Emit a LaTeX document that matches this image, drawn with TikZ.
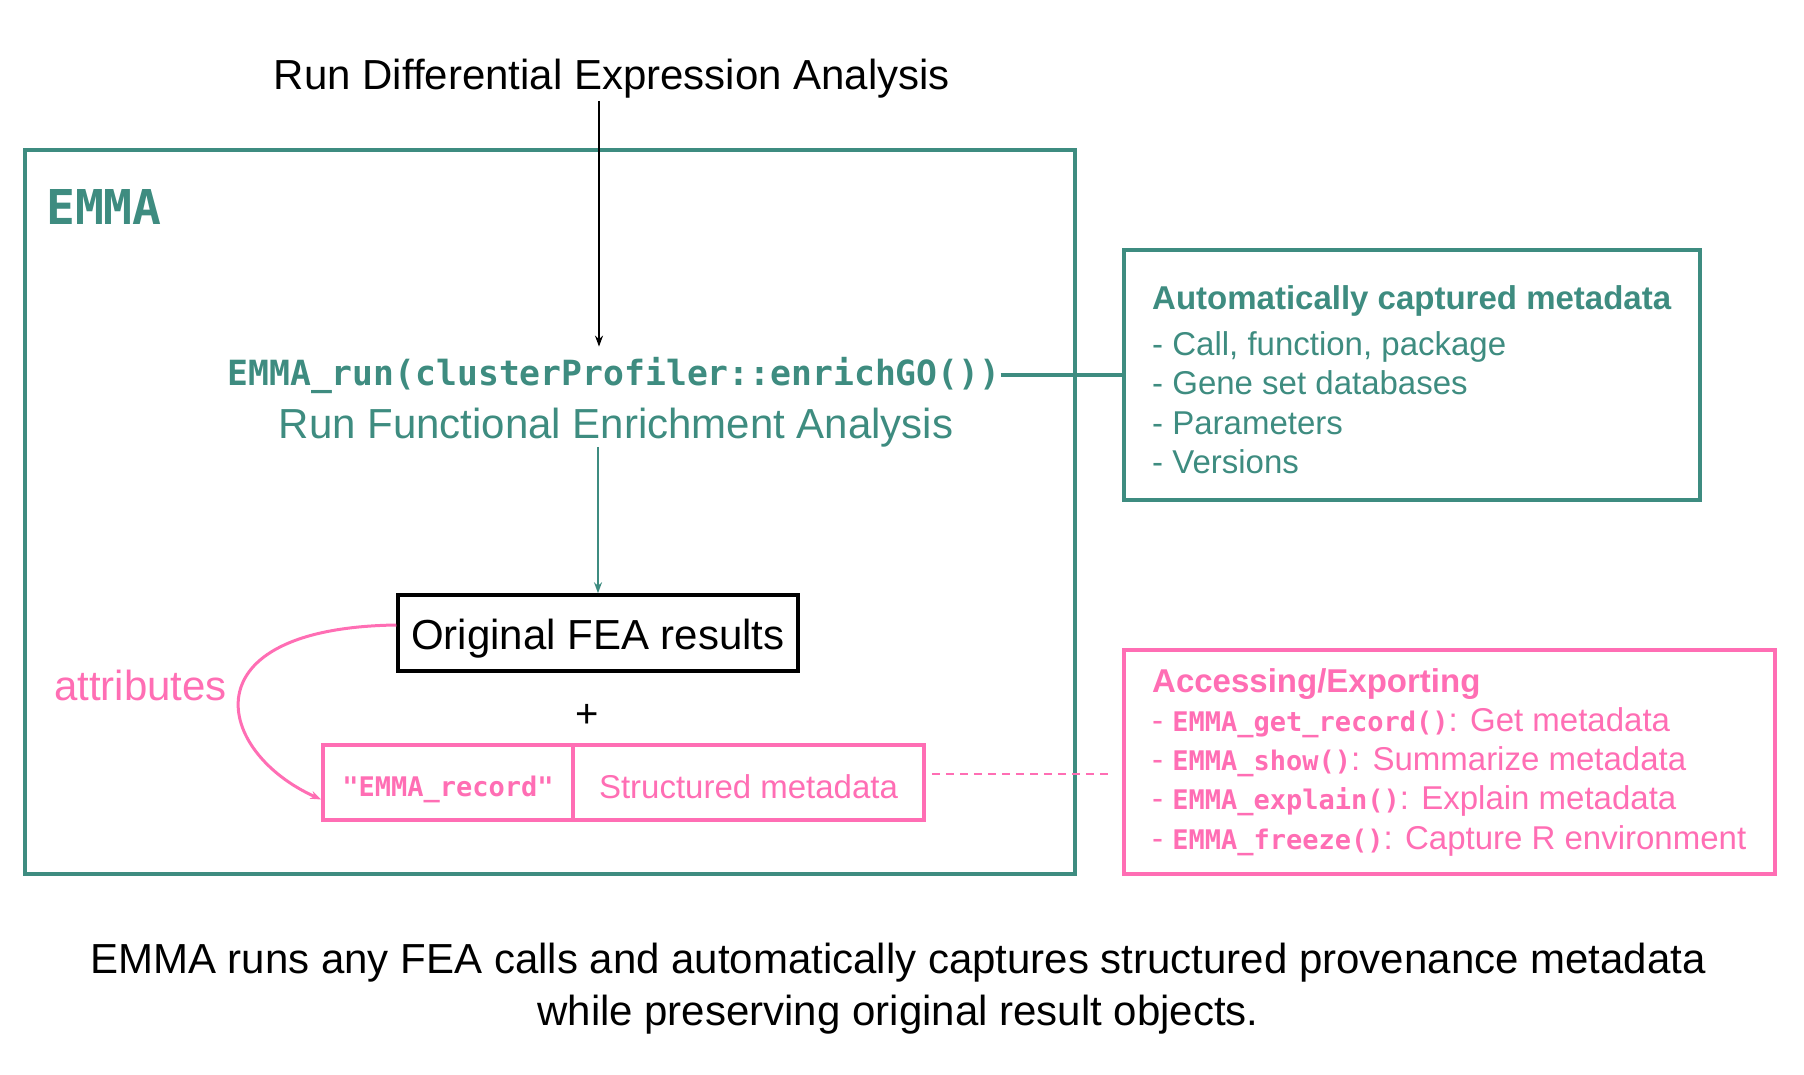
\documentclass[tikz,border=0pt]{standalone}
\usepackage{fontspec}
\setmainfont{Liberation Sans}
\setmonofont{DejaVu Sans Mono}
\usetikzlibrary{arrows.meta,calc}
\definecolor{emteal}{HTML}{3E8C80}
\definecolor{empink}{HTML}{FF6EB4}
\newcommand{\myfs}[1]{\fontsize{#1pt}{#1pt}\selectfont}
\newcommand{\mc}[1]{{\ttfamily\bfseries\myfs{27}#1}}
\tikzset{
  txt/.style={inner sep=0pt},
  bigtxt/.style={txt, font=\myfs{42}},
  smalltxt/.style={txt, font=\myfs{33}, anchor=base west},
  tealbox/.style={draw=emteal, line width=3.5pt, inner sep=0pt},
  pinkbox/.style={draw=empink, line width=3.5pt, inner sep=0pt},
  arr/.style={-{Stealth[length=11pt,width=8pt]}},
}
\begin{document}
\begin{tikzpicture}[x=1pt,y=-1pt]
\useasboundingbox (0,0) rectangle (1804,1075);
% main EMMA box
\node[tealbox, minimum width=1050pt, minimum height=724pt] (emma) at (550,512) {};
\node[txt, anchor=base west, text=emteal, font=\ttfamily\bfseries\myfs{48}] (emmalbl) at (46,225) {EMMA};
% top text
\node[bigtxt, anchor=base] (de) at (612,90) {Run Differential Expression Analysis};
\node[txt, inner ysep=10pt, text=emteal, font=\ttfamily\bfseries\myfs{34.7}] (run) at (614,375) {EMMA\_run(clusterProfiler::enrichGO())};
\node[bigtxt, anchor=base, text=emteal] (rfea) at (616,438) {Run Functional Enrichment Analysis};
\coordinate (detop) at (599,101);
\draw[arr, line width=1.6pt] (detop) -- (detop |- run.north);
% original results
\node[draw=black, line width=3.5pt, minimum width=400pt, minimum height=76pt] (orig) at (598,633) {};
\node[bigtxt] (origt) at ([yshift=-6pt]orig.center) {Original FEA results};
\draw[arr, emteal, line width=2pt] (rfea.south -| orig.north) -- (orig.north);
\node[txt, font=\myfs{40}] (plus) at (587,716) {+};
% record
\node[pinkbox, minimum width=250pt, minimum height=75pt] (rec1) at (448,782.5) {};
\node[txt, text=empink, font=\ttfamily\bfseries\myfs{27}] (rec1t) at ([yshift=-7pt]rec1.center) {"EMMA\_record"};
\node[pinkbox, minimum width=351pt, minimum height=75pt] (rec2) at (748.5,782.5) {};
\node[txt, text=empink, font=\myfs{33}] (rec2t) at ([yshift=-4pt]rec2.center) {Structured metadata};
\node[txt, anchor=base west, text=empink, font=\myfs{42}] (attr) at (54,700) {attributes};
\draw[arr, empink, line width=3pt] ([yshift=8pt]orig.west) .. controls (185,628) and (215,752) .. ([yshift=-17pt]rec1.west);
% metadata box
\node[tealbox, minimum width=576pt, minimum height=250pt] (meta) at (1412,375) {};
\draw[emteal, line width=3.5pt] (run.east) -- (meta.west);
\node[smalltxt, text=emteal, font=\myfs{33}\bfseries] (mt) at (1152,309) {Automatically captured metadata};
\node[smalltxt, text=emteal] (m1) at (1152,355) {- Call, function, package};
\node[smalltxt, text=emteal] (m2) at (1152,394) {- Gene set databases};
\node[smalltxt, text=emteal] (m3) at (1152,434) {- Parameters};
\node[smalltxt, text=emteal] (m4) at (1152,473) {- Versions};
% accessing box
\node[pinkbox, minimum width=651pt, minimum height=224pt] (acc) at (1449.5,762) {};
\node[smalltxt, text=empink, font=\myfs{33}\bfseries] (at) at (1152,692) {Accessing/Exporting};
\node[smalltxt, text=empink] (a1) at (1152,731) {- \mc{EMMA\_get\_record()}: Get metadata};
\node[smalltxt, text=empink] (a2) at (1152,770) {- \mc{EMMA\_show()}: Summarize metadata};
\node[smalltxt, text=empink] (a3) at (1152,809) {- \mc{EMMA\_explain()}: Explain metadata};
\node[smalltxt, text=empink] (a4) at (1152,849) {- \mc{EMMA\_freeze()}: Capture R environment};
\coordinate (ds) at ([xshift=6pt,yshift=8.5pt]rec2.east);
\draw[empink, line width=2.5pt, dash pattern=on 8pt off 6pt] (ds) -- ([xshift=-10pt]acc.west |- ds);
% caption
\node[bigtxt, anchor=base] (cap1) at (898,973) {EMMA runs any FEA calls and automatically captures structured provenance metadata};
\node[bigtxt, anchor=base] (cap2) at (898,1025) {while preserving original result objects.};
\end{tikzpicture}
\end{document}
